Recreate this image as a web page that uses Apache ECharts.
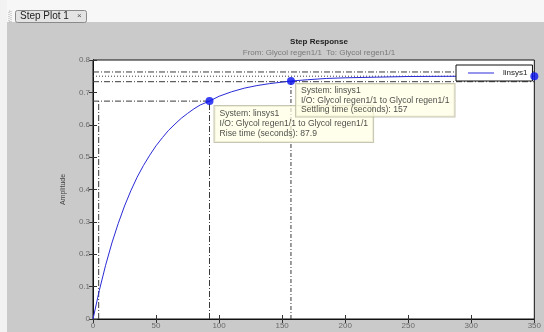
<!DOCTYPE html>
<html>
<head>
<meta charset="utf-8">
<script src="https://cdn.jsdelivr.net/npm/echarts@6/dist/echarts.min.js"></script>
<style>
  html, body { margin: 0; padding: 0; background: #cacaca; }
  #chart { width: 544px; height: 332px; }
</style>
</head>
<body>
<div id="chart"></div>
<script>
// Step response of linsys1 (Glycol regen1/1 -> Glycol regen1/1)
const timeSec   = [0, 5, 10, 15, 20, 25, 30, 35, 40, 45, 50, 55, 60, 65, 70, 75, 80, 85, 92.4, 100, 110, 120, 130, 140, 157, 170, 185, 200, 225, 250, 300, 350];
const amplitude = [0, 0.088, 0.166, 0.235, 0.295, 0.349, 0.396, 0.438, 0.474, 0.506, 0.535, 0.560, 0.583, 0.602, 0.620, 0.635, 0.649, 0.661, 0.673, 0.688, 0.702, 0.713, 0.721, 0.727, 0.735, 0.739, 0.743, 0.745, 0.747, 0.749, 0.750, 0.750];

const xTicks = [0, 50, 100, 150, 200, 250, 300, 350];
const yTicks = [0, 0.1, 0.2, 0.3, 0.4, 0.5, 0.6, 0.7, 0.8];

// Characteristics shown as data tips
const riseStart = 4.5;        // 10% crossing
const riseEnd = 92.4;         // 90% crossing
const riseLevel = 0.673;
const riseTime = 87.9;
const settleTime = 157;
const settleLevel = 0.735;
const finalValue = 0.75;
const settleUpper = 0.763;
const settleLower = 0.733;

const systemName = 'linsys1';
const ioName = 'Glycol regen1/1 to Glycol regen1/1';

const FONT = 'Liberation Sans, Arial, sans-serif';
const dashDot = [6, 2, 1, 2];
const refColor = '#3a3a3a';

function refLine(points, type) {
  return {
    type: 'line',
    data: points,
    symbol: 'none',
    silent: true,
    animation: false,
    lineStyle: { color: refColor, width: 1, type: type },
    z: 2
  };
}

const tipStyle = {
  show: true,
  align: 'left',
  verticalAlign: 'top',
  fontFamily: FONT,
  fontSize: 8.6,
  color: '#222',
  backgroundColor: 'rgba(255,255,228,0.88)',
  borderColor: '#b9b9a0',
  borderWidth: 1
};

const chart = echarts.init(document.getElementById('chart'), null, { renderer: 'canvas' });

chart.setOption({
  backgroundColor: '#cacaca',
  animation: false,
  textStyle: { fontFamily: FONT },
  title: [
    {
      text: 'Step Response',
      left: 314, top: 33, textAlign: 'center',
      textStyle: { fontSize: 8, fontWeight: 'bold', color: '#222', fontFamily: FONT }
    },
    {
      text: 'From: Glycol regen1/1  To: Glycol regen1/1',
      left: 314, top: 44, textAlign: 'center',
      textStyle: { fontSize: 8, fontWeight: 'normal', color: '#7a7a7a', fontFamily: FONT }
    }
  ],
  graphic: [
    // window chrome: top strip, left strip and tab
    { type: 'rect', shape: { x: 0, y: 0, width: 544, height: 22 }, style: { fill: '#f7f7f7' }, silent: true },
    { type: 'rect', shape: { x: 0, y: 0, width: 7, height: 332 }, style: { fill: '#f2f2f2' }, silent: true },
    { type: 'rect', shape: { x: 15.5, y: 10.5, width: 71, height: 12, r: 2 }, style: { fill: '#e4e4e4', stroke: '#8a8a8a', lineWidth: 1 }, silent: true },
    { type: 'text', x: 20, y: 11, style: { text: 'Step Plot 1', fontSize: 10, fontFamily: FONT, fill: '#222' }, silent: true },
    { type: 'text', x: 77, y: 12, style: { text: '×', fontSize: 8, fontFamily: FONT, fill: '#555' }, silent: true },
    { type: 'rect', shape: { x: 9, y: 11, width: 2, height: 11 }, style: { fill: 'none', stroke: '#aaa', lineDash: [1, 1], lineWidth: 1 }, silent: true }
  ],
  legend: {
    data: [{ name: systemName, icon: 'path://M0,0 L26,0 L26,1 L0,1 Z' }],
    left: 456, top: 65,
    itemWidth: 26, itemHeight: 1,
    itemGap: 4,
    padding: [4, 5, 4, 12],
    backgroundColor: '#fff',
    borderColor: '#111',
    borderWidth: 1,
    borderRadius: 0,
    textStyle: { fontSize: 8, color: '#222', fontFamily: FONT, padding: [0, 0, 0, 4] },
    selectedMode: false
  },
  grid: {
    left: 93, right: 8, top: 60, bottom: 13,
    show: true, backgroundColor: '#ffffff', borderColor: '#111', borderWidth: 1
  },
  xAxis: [
    {
      type: 'value', min: xTicks[0], max: xTicks[xTicks.length - 1], interval: 50,
      axisLine: { show: true, lineStyle: { color: '#111' } },
      axisTick: { show: true, inside: true, length: 4, lineStyle: { color: '#333' } },
      axisLabel: { fontSize: 8, color: '#6a6a6a', margin: 3, fontFamily: FONT },
      splitLine: { show: false }
    },
    {
      type: 'value', position: 'top', min: xTicks[0], max: xTicks[xTicks.length - 1], interval: 50,
      axisLine: { show: true, lineStyle: { color: '#111' } },
      axisTick: { show: true, inside: true, length: 4, lineStyle: { color: '#333' } },
      axisLabel: { show: false }, splitLine: { show: false }
    }
  ],
  yAxis: [
    {
      type: 'value', min: yTicks[0], max: yTicks[yTicks.length - 1], interval: 0.1,
      name: 'Amplitude', nameLocation: 'middle', nameGap: 26, nameRotate: 90,
      nameTextStyle: { fontSize: 7, color: '#444', fontFamily: FONT },
      axisLine: { show: true, lineStyle: { color: '#111' } },
      axisTick: { show: true, inside: true, length: 4, lineStyle: { color: '#333' } },
      axisLabel: { fontSize: 8, color: '#6a6a6a', margin: 3, fontFamily: FONT,
                   formatter: v => (Math.round(v * 10) / 10).toString() },
      splitLine: { show: false }
    },
    {
      type: 'value', position: 'right', min: yTicks[0], max: yTicks[yTicks.length - 1], interval: 0.1,
      axisLine: { show: true, lineStyle: { color: '#111' } },
      axisTick: { show: true, inside: true, length: 4, lineStyle: { color: '#333' } },
      axisLabel: { show: false }, splitLine: { show: false }
    }
  ],
  series: [
    // settling band and steady-state value
    refLine([[0, settleUpper], [350, settleUpper]], dashDot),
    refLine([[0, finalValue], [350, finalValue]], [1, 2]),
    refLine([[0, settleLower], [350, settleLower]], dashDot),
    // rise time guides
    refLine([[0, riseLevel], [riseEnd, riseLevel]], dashDot),
    refLine([[riseStart, 0], [riseStart, riseLevel]], dashDot),
    refLine([[riseEnd, 0], [riseEnd, riseLevel]], dashDot),
    // settling time guide
    refLine([[settleTime, 0], [settleTime, settleLevel]], [4, 2, 1, 2]),
    {
      name: systemName,
      type: 'line',
      data: timeSec.map((t, i) => [t, amplitude[i]]),
      symbol: 'none',
      smooth: false,
      lineStyle: { color: '#2a2ad6', width: 1 },
      itemStyle: { color: '#2a2ad6' },
      z: 3
    },
    {
      type: 'scatter',
      data: [[riseEnd, riseLevel]],
      symbolSize: 8,
      itemStyle: { color: '#0a14f0' },
      label: Object.assign({}, tipStyle, {
        position: [9, 9],
        lineHeight: 10,
        padding: [3, 5, 3, 5],
        formatter: () => 'System: ' + systemName + '\nI/O: ' + ioName + '\nRise time (seconds): ' + riseTime
      }),
      z: 5
    },
    {
      type: 'scatter',
      data: [[settleTime, settleLevel]],
      symbolSize: 8,
      itemStyle: { color: '#0a14f0' },
      label: Object.assign({}, tipStyle, {
        position: [9, 7],
        lineHeight: 9.5,
        padding: [2, 5, 2, 5],
        formatter: () => 'System: ' + systemName + '\nI/O: ' + ioName + '\nSettling time (seconds): ' + settleTime
      }),
      z: 6
    },
    {
      type: 'scatter',
      data: [[350, finalValue]],
      symbolSize: 8,
      itemStyle: { color: '#0a14f0' },
      clip: false,
      z: 7
    }
  ]
});
</script>
</body>
</html>
